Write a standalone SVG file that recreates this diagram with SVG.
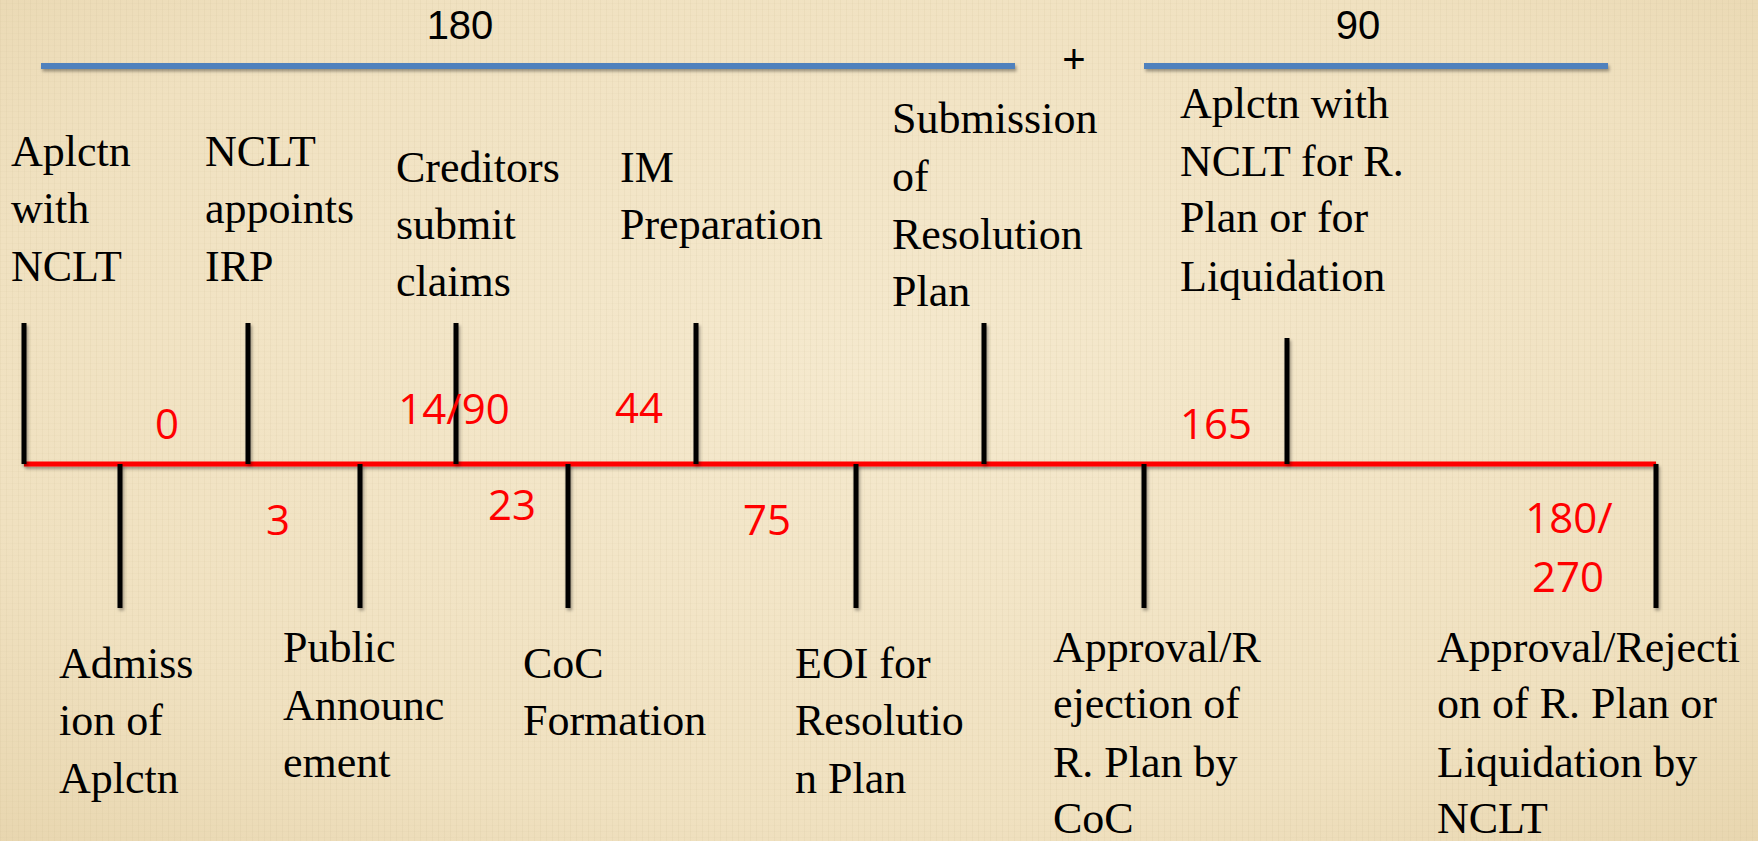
<svg xmlns="http://www.w3.org/2000/svg" width="1758" height="841" viewBox="0 0 1758 841">
<defs>
  <radialGradient id="bg" cx="50%" cy="45%" r="75%">
    <stop offset="0" stop-color="#F5E9CE"/>
    <stop offset="0.7" stop-color="#F0E1C0"/>
    <stop offset="1" stop-color="#E8D6AF"/>
  </radialGradient>
  <pattern id="weave" width="6" height="6" patternUnits="userSpaceOnUse">
    <rect x="0" y="0" width="1" height="6" fill="#C9B48A" opacity="0.12"/>
    <rect x="0" y="3" width="6" height="1" fill="#C9B48A" opacity="0.07"/>
  </pattern>
  <filter id="sh" filterUnits="userSpaceOnUse" x="0" y="0" width="1758" height="841">
    <feDropShadow dx="1.5" dy="2.5" stdDeviation="1.5" flood-color="#000" flood-opacity="0.35"/>
  </filter>
  <style>
    .lbl{font-family:"Liberation Serif","Times New Roman",serif;font-size:44px;fill:#000;}
    .num{font-family:"Open Sans","Liberation Sans",sans-serif;font-size:42px;fill:#FF0000;text-anchor:middle;}
    .top{font-family:"Liberation Sans",Arial,sans-serif;font-size:40px;fill:#000;text-anchor:middle;}
    .tick{stroke:#000;stroke-width:5;filter:url(#sh);}
    .blue{stroke:#4F81BD;stroke-width:6;filter:url(#sh);}
    .axis{stroke:#FF0000;stroke-width:5;filter:url(#sh);}
  </style>
</defs>
<rect width="1758" height="841" fill="url(#bg)"/>
<rect width="1758" height="841" fill="url(#weave)"/>

<g id="period-bars">
  <line class="blue" x1="41" y1="66" x2="1015" y2="66"/>
  <line class="blue" x1="1144" y1="66" x2="1608" y2="66"/>
  <text class="top" x="460" y="39">180</text>
  <text class="top" x="1074" y="73" style="font-size:40px">+</text>
  <text class="top" x="1358" y="39">90</text>
</g>

<g id="connectors">
  <line class="axis" x1="24" y1="464" x2="1656" y2="464"/>
</g>

<g id="n-aplctn">
  <line class="tick" x1="24" y1="323" x2="24" y2="464"/>
  <text class="lbl" x="11" y="166">Aplctn</text>
  <text class="lbl" x="11" y="223">with</text>
  <text class="lbl" x="11" y="281">NCLT</text>
  <text class="num" x="167" y="439">0</text>
</g>

<g id="n-admission">
  <line class="tick" x1="120" y1="464" x2="120" y2="608"/>
  <text class="lbl" x="59" y="678">Admiss</text>
  <text class="lbl" x="59" y="735">ion of</text>
  <text class="lbl" x="59" y="793">Aplctn</text>
</g>

<g id="n-irp">
  <line class="tick" x1="248" y1="323" x2="248" y2="464"/>
  <text class="lbl" x="205" y="166">NCLT</text>
  <text class="lbl" x="205" y="223">appoints</text>
  <text class="lbl" x="205" y="281">IRP</text>
</g>

<g id="n-public">
  <line class="tick" x1="360" y1="464" x2="360" y2="608"/>
  <text class="lbl" x="283" y="662">Public</text>
  <text class="lbl" x="283" y="720">Announc</text>
  <text class="lbl" x="283" y="777">ement</text>
  <text class="num" x="278" y="535">3</text>
</g>

<g id="n-claims">
  <line class="tick" x1="456" y1="323" x2="456" y2="464"/>
  <text class="lbl" x="396" y="182">Creditors</text>
  <text class="lbl" x="396" y="239">submit</text>
  <text class="lbl" x="396" y="296">claims</text>
  <text class="num" x="454" y="424">14/90</text>
</g>

<g id="n-coc">
  <line class="tick" x1="568" y1="464" x2="568" y2="608"/>
  <text class="lbl" x="523" y="678">CoC</text>
  <text class="lbl" x="523" y="735">Formation</text>
  <text class="num" x="512" y="520">23</text>
</g>

<g id="n-im">
  <line class="tick" x1="696" y1="323" x2="696" y2="464"/>
  <text class="lbl" x="620" y="182">IM</text>
  <text class="lbl" x="620" y="239">Preparation</text>
  <text class="num" x="639" y="423">44</text>
</g>

<g id="n-eoi">
  <line class="tick" x1="856" y1="464" x2="856" y2="608"/>
  <text class="lbl" x="795" y="678">EOI for</text>
  <text class="lbl" x="795" y="735">Resolutio</text>
  <text class="lbl" x="795" y="793">n Plan</text>
  <text class="num" x="767" y="535">75</text>
</g>

<g id="n-submission">
  <line class="tick" x1="984" y1="323" x2="984" y2="464"/>
  <text class="lbl" x="892" y="133">Submission</text>
  <text class="lbl" x="892" y="191">of</text>
  <text class="lbl" x="892" y="249">Resolution</text>
  <text class="lbl" x="892" y="306">Plan</text>
</g>

<g id="n-coc-approval">
  <line class="tick" x1="1144" y1="464" x2="1144" y2="608"/>
  <text class="lbl" x="1053" y="662">Approval/R</text>
  <text class="lbl" x="1053" y="718">ejection of</text>
  <text class="lbl" x="1053" y="777">R. Plan by</text>
  <text class="lbl" x="1053" y="833">CoC</text>
</g>

<g id="n-nclt-application">
  <line class="tick" x1="1287" y1="338" x2="1287" y2="464"/>
  <text class="lbl" x="1180" y="118">Aplctn with</text>
  <text class="lbl" x="1180" y="176">NCLT for R.</text>
  <text class="lbl" x="1180" y="232">Plan or for</text>
  <text class="lbl" x="1180" y="291">Liquidation</text>
  <text class="num" x="1216" y="439">165</text>
</g>

<g id="n-final">
  <line class="tick" x1="1656" y1="464" x2="1656" y2="608"/>
  <text class="lbl" x="1437" y="662">Approval/Rejecti</text>
  <text class="lbl" x="1437" y="718">on of R. Plan or</text>
  <text class="lbl" x="1437" y="777">Liquidation by</text>
  <text class="lbl" x="1437" y="833">NCLT</text>
  <text class="num" x="1569" y="533">180/</text>
  <text class="num" x="1568" y="592">270</text>
</g>
</svg>
